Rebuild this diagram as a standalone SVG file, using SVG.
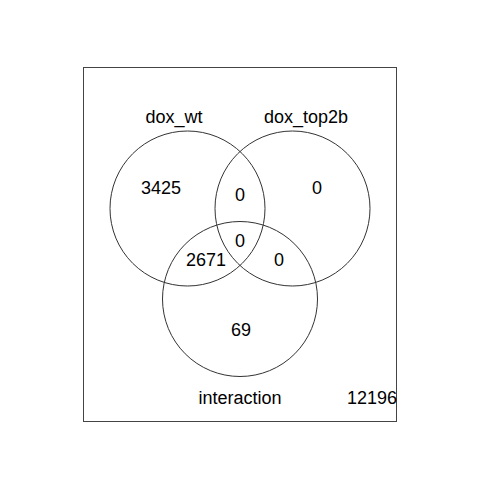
<svg xmlns="http://www.w3.org/2000/svg" width="480" height="480" viewBox="0 0 480 480">
<style>
text{font-family:"Liberation Sans",Arial,sans-serif;font-size:18px;fill:#000;text-anchor:middle}
.c{fill:none;stroke:#333;stroke-width:1}
</style>
<rect width="480" height="480" fill="#fff"/>
<rect x="83.5" y="67.5" width="313" height="354" fill="none" stroke="#444" stroke-width="1"/>
<g id="dox_wt"><circle class="c" cx="187.5" cy="208.5" r="77.5"/><text x="174" y="123">dox_wt</text></g>
<g id="dox_top2b"><circle class="c" cx="292.5" cy="208.5" r="77.5"/><text x="306" y="123">dox_top2b</text></g>
<g id="interaction"><circle class="c" cx="240" cy="299" r="77.5"/><text x="240" y="404">interaction</text></g>
<g id="counts">
<text x="161" y="193.5">3425</text>
<text x="240" y="201">0</text>
<text x="317" y="193.5">0</text>
<text x="240" y="246.5">0</text>
<text x="206" y="265.5">2671</text>
<text x="279" y="265.5">0</text>
<text x="241" y="335.5">69</text>
<text x="372" y="404">12196</text>
</g>
</svg>
